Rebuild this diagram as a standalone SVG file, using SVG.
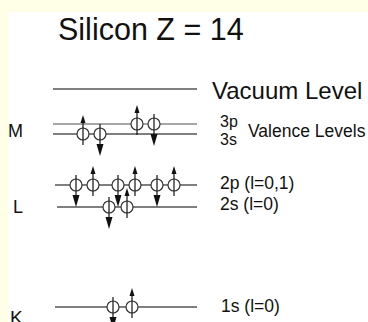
<svg xmlns="http://www.w3.org/2000/svg" width="368" height="322" viewBox="0 0 368 322">
<style>
text{font-family:"Liberation Sans",Arial,sans-serif;fill:#111}
.lvl{stroke:#555;stroke-width:1.3}
.lvl2{stroke:#888;stroke-width:1.3}
.e{fill:#fff;stroke:#333;stroke-width:1.2}
.sh{stroke:#111;stroke-width:1.2}
.hd{fill:#111}
</style>
<defs>
<g id="up">
<circle class="e" cx="0" cy="0" r="6"/>
<line class="sh" x1="0" y1="11" x2="0" y2="-12"/>
<polygon class="hd" points="0,-19 -2.5,-11 2.5,-11"/>
</g>
<g id="dn">
<circle class="e" cx="0" cy="0" r="6"/>
<line class="sh" x1="0" y1="-10" x2="0" y2="11"/>
<polygon class="hd" points="0,22 -3.5,10 3.5,10"/>
</g>
</defs>
<rect x="0" y="0" width="368" height="322" fill="#FFFFE8"/>
<rect x="8" y="12" width="360" height="310" fill="#fff"/>
<text x="58" y="40" font-size="30.5">Silicon Z = 14</text>
<g id="levels">
<line class="lvl" x1="53" y1="89" x2="197" y2="89"/>
<line class="lvl2" x1="53" y1="124" x2="197" y2="124"/>
<line class="lvl" x1="53" y1="134" x2="197" y2="134"/>
<line class="lvl" x1="55" y1="185" x2="197" y2="185"/>
<line class="lvl" x1="57" y1="207" x2="197" y2="207"/>
<line class="lvl" x1="55" y1="307" x2="197" y2="307"/>
</g>
<g id="vacuum"><text x="212" y="99" font-size="24">Vacuum Level</text></g>
<g id="shellM">
<text x="8" y="137" font-size="18">M</text>
<use href="#up" x="83" y="134"/>
<use href="#dn" x="100" y="134"/>
<use href="#up" x="137" y="124"/>
<use href="#dn" x="154" y="124"/>
<text x="220" y="127" font-size="16">3p</text>
<text x="220" y="145" font-size="16">3s</text>
<text x="248" y="137" font-size="17.5">Valence Levels</text>
</g>
<g id="shellL">
<text x="13" y="213" font-size="18">L</text>
<use href="#dn" x="76" y="185"/>
<use href="#up" x="93" y="185"/>
<use href="#dn" x="118" y="185"/>
<use href="#up" x="135" y="185"/>
<use href="#dn" x="157" y="185"/>
<use href="#up" x="174" y="185"/>
<use href="#dn" x="109" y="207"/>
<use href="#up" x="127" y="207"/>
<text x="220" y="189" font-size="17.5">2p (l=0,1)</text>
<text x="220" y="210" font-size="17.5">2s (l=0)</text>
</g>
<g id="shellK">
<text x="10" y="324" font-size="19">K</text>
<use href="#dn" x="113" y="307"/>
<use href="#up" x="132" y="307"/>
<text x="221" y="312" font-size="17.5">1s (l=0)</text>
</g>
</svg>
